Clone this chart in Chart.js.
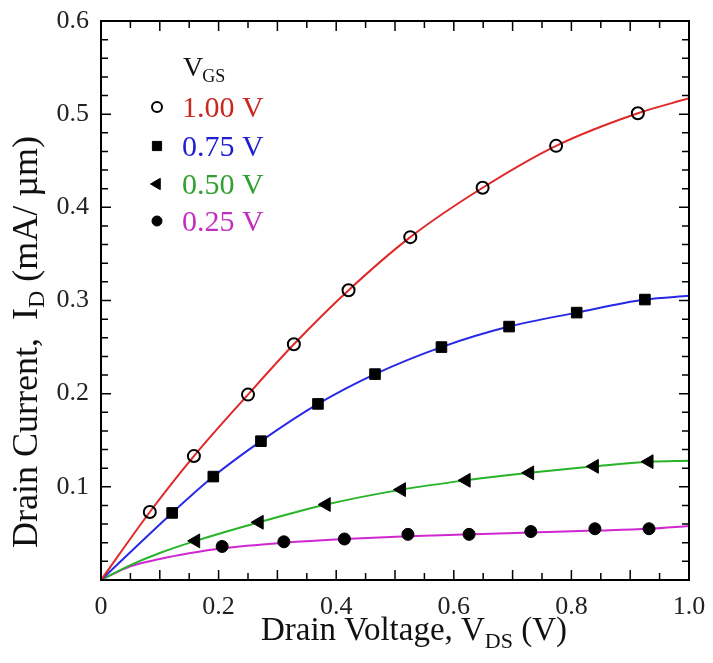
<!DOCTYPE html>
<html>
<head>
<meta charset="utf-8">
<script src="https://cdn.jsdelivr.net/npm/chart.js@4"></script>
<style>
  html, body { margin: 0; padding: 0; background: #fff; }
  #wrap { width: 713px; height: 663px; position: relative; }
</style>
</head>
<body>
<div id="wrap"><canvas id="myChart" width="713" height="663"></canvas></div>
<script>
// marker points (V_DS in V, I_D in mA/um)
const vds100 = [0.083, 0.158, 0.250, 0.328, 0.421, 0.526, 0.649, 0.774, 0.913];
const id100 = [0.073, 0.133, 0.199, 0.253, 0.311, 0.368, 0.421, 0.466, 0.501];
const vds075 = [0.121, 0.191, 0.272, 0.369, 0.466, 0.579, 0.694, 0.809, 0.925];
const id075 = [0.072, 0.111, 0.149, 0.189, 0.221, 0.250, 0.272, 0.287, 0.301];
const vds050 = [0.161, 0.269, 0.383, 0.511, 0.621, 0.729, 0.839, 0.932];
const id050 = [0.042, 0.062, 0.081, 0.097, 0.107, 0.115, 0.122, 0.127];
const vds025 = [0.206, 0.311, 0.414, 0.522, 0.626, 0.731, 0.840, 0.932];
const id025 = [0.036, 0.041, 0.044, 0.049, 0.049, 0.052, 0.055, 0.055];

// fitted curves
const curve100x = [0, 0.083, 0.158, 0.250, 0.328, 0.421, 0.526, 0.649, 0.774, 0.913, 1.0];
const curve100y = [0, 0.073, 0.133, 0.199, 0.253, 0.311, 0.368, 0.421, 0.466, 0.501, 0.517];
const curve075x = [0, 0.121, 0.191, 0.272, 0.369, 0.466, 0.579, 0.694, 0.809, 0.925, 1.0];
const curve075y = [0, 0.072, 0.111, 0.149, 0.189, 0.221, 0.250, 0.272, 0.287, 0.301, 0.305];
const curve050x = [0, 0.05, 0.1, 0.161, 0.269, 0.383, 0.511, 0.621, 0.729, 0.839, 0.932, 1.0];
const curve050y = [0, 0.016, 0.029, 0.042, 0.062, 0.081, 0.097, 0.107, 0.115, 0.122, 0.127, 0.128];
const curve025x = [0, 0.05, 0.1, 0.15, 0.206, 0.311, 0.414, 0.522, 0.626, 0.731, 0.840, 0.932, 1.0];
const curve025y = [0, 0.0147, 0.0225, 0.0286, 0.034, 0.040, 0.044, 0.047, 0.049, 0.051, 0.053, 0.055, 0.058];

const legendLabels = ["1.00 V", "0.75 V", "0.50 V", "0.25 V"];
const lineColors = ["#e02828", "#2828e8", "#28b428", "#d028d0"];
const textColors = ["#c82820", "#2020d0", "#30a030", "#c030c0"];

const FONT = '"Liberation Serif", "Times New Roman", serif';

function pts(xs, ys) {
  return xs.map((x, i) => ({ x: x, y: ys[i] }));
}

function curveSet(xs, ys, color) {
  return {
    data: pts(xs, ys),
    showLine: true,
    borderColor: color,
    borderWidth: 2,
    pointRadius: 0,
    cubicInterpolationMode: "monotone",
    order: 2,
  };
}

const markerStyles = [
  { pointStyle: "circle", radius: 6, rotation: 0, fill: "rgba(0,0,0,0)", bw: 2 },
  { pointStyle: "rect", radius: 7.5, rotation: 0, fill: "#000", bw: 1 },
  { pointStyle: "triangle", radius: 8, rotation: 270, fill: "#000", bw: 1 },
  { pointStyle: "circle", radius: 6, rotation: 0, fill: "#000", bw: 1 },
];

function markerSet(xs, ys, k) {
  const m = markerStyles[k];
  return {
    data: pts(xs, ys),
    showLine: false,
    pointStyle: m.pointStyle,
    pointRadius: m.radius,
    pointRotation: m.rotation,
    pointBackgroundColor: m.fill,
    pointBorderColor: "#000",
    pointBorderWidth: m.bw,
    order: 1,
  };
}

// axes frame, inward ticks, titles and legend
const decorPlugin = {
  id: "decor",
  afterDraw(chart) {
    const ctx = chart.ctx;
    const a = chart.chartArea;
    const xs = chart.scales.x;
    const ys = chart.scales.y;
    ctx.save();
    ctx.strokeStyle = "#000";
    ctx.lineWidth = 2;
    ctx.strokeRect(a.left, a.top, a.right - a.left, a.bottom - a.top);

    ctx.lineWidth = 1.5;
    ctx.beginPath();
    xs.ticks.forEach((t) => {
      const px = xs.getPixelForValue(t.value);
      const major = Math.abs(t.value * 10 - Math.round(t.value * 10)) < 1e-6;
      const len = major ? 10 : 7;
      ctx.moveTo(px, a.bottom);
      ctx.lineTo(px, a.bottom - len);
      ctx.moveTo(px, a.top);
      ctx.lineTo(px, a.top + len);
    });
    ys.ticks.forEach((t) => {
      const py = ys.getPixelForValue(t.value);
      const major = Math.abs(t.value * 10 - Math.round(t.value * 10)) < 1e-6;
      const len = major ? 10 : 7;
      ctx.moveTo(a.left, py);
      ctx.lineTo(a.left + len, py);
      ctx.moveTo(a.right, py);
      ctx.lineTo(a.right - len, py);
    });
    ctx.stroke();

    ctx.fillStyle = "#111";
    ctx.textBaseline = "alphabetic";

    // x title
    const xParts = [
      { t: "Drain Voltage, V", f: 33, dy: 0 },
      { t: "DS", f: 22, dy: 8 },
      { t: " (V)", f: 33, dy: 0 },
    ];
    drawParts(ctx, xParts, 414, 640);

    // y title
    ctx.save();
    ctx.translate(37, 342);
    ctx.rotate(-Math.PI / 2);
    const yParts = [
      { t: "Drain Current,  I", f: 36, dy: 0 },
      { t: "D", f: 24, dy: 7 },
      { t: " (mA/ \u00b5m)", f: 36, dy: 0 },
    ];
    drawParts(ctx, yParts, 0, 0);
    ctx.restore();

    // legend
    ctx.textAlign = "left";
    ctx.fillStyle = "#111";
    ctx.font = "28px " + FONT;
    ctx.fillText("V", 183, 76);
    const vw = ctx.measureText("V").width;
    ctx.font = "18px " + FONT;
    ctx.fillText("GS", 183 + vw - 1, 82);

    const rowY = [107, 146, 184, 221];
    const legendMarkers = [
      { pointStyle: "circle", radius: 5, rotation: 0, fill: "rgba(0,0,0,0)", bw: 2 },
      { pointStyle: "rect", radius: 6.5, rotation: 0, fill: "#000", bw: 1 },
      { pointStyle: "triangle", radius: 6.5, rotation: 270, fill: "#000", bw: 1 },
      { pointStyle: "circle", radius: 5, rotation: 0, fill: "#000", bw: 1 },
    ];
    legendLabels.forEach((lab, i) => {
      const m = legendMarkers[i];
      ctx.fillStyle = m.fill;
      ctx.strokeStyle = "#000";
      ctx.lineWidth = m.bw;
      Chart.helpers.drawPoint(ctx, { pointStyle: m.pointStyle, radius: m.radius, rotation: m.rotation, borderWidth: m.bw }, 157, rowY[i]);
      ctx.fillStyle = textColors[i];
      ctx.font = "30px " + FONT;
      ctx.fillText(lab, 182, rowY[i] + 10);
    });
    ctx.restore();
  },
};

function drawParts(ctx, parts, cx, by) {
  let total = 0;
  parts.forEach((p) => {
    ctx.font = p.f + "px " + FONT;
    p.w = ctx.measureText(p.t).width;
    total += p.w;
  });
  let x = cx - total / 2;
  ctx.textAlign = "left";
  parts.forEach((p) => {
    ctx.font = p.f + "px " + FONT;
    ctx.fillText(p.t, x, by + p.dy);
    x += p.w;
  });
}

const ctx = document.getElementById("myChart").getContext("2d");
const myChart = new Chart(ctx, {
  type: "scatter",
  data: {
    datasets: [
      curveSet(curve100x, curve100y, lineColors[0]),
      curveSet(curve075x, curve075y, lineColors[1]),
      curveSet(curve050x, curve050y, lineColors[2]),
      curveSet(curve025x, curve025y, lineColors[3]),
      markerSet(vds100, id100, 0),
      markerSet(vds075, id075, 1),
      markerSet(vds050, id050, 2),
      markerSet(vds025, id025, 3),
    ],
  },
  options: {
    responsive: false,
    animation: false,
    layout: { padding: { left: 0, right: 24, top: 21, bottom: 0 } },
    plugins: { legend: { display: false }, tooltip: { enabled: false } },
    scales: {
      x: {
        type: "linear",
        min: 0,
        max: 1,
        grid: { display: false },
        border: { display: false },
        afterFit: (s) => { s.height = 83; },
        ticks: {
          stepSize: 0.05,
          autoSkip: false,
          maxRotation: 0,
          padding: 4,
          color: "#222",
          font: { family: FONT, size: 26 },
          callback: (v) => {
            const r = Math.round(v * 5);
            if (Math.abs(v * 5 - r) > 1e-6) return "";
            if (r === 0) return "0";
            return (r / 5).toFixed(1);
          },
        },
      },
      y: {
        type: "linear",
        min: 0,
        max: 0.6,
        grid: { display: false },
        border: { display: false },
        afterFit: (s) => { s.width = 101; },
        ticks: {
          stepSize: 0.02,
          autoSkip: false,
          padding: 4,
          color: "#222",
          font: { family: FONT, size: 26 },
          callback: (v) => {
            const r = Math.round(v * 10);
            if (Math.abs(v * 10 - r) > 1e-6 || r === 0) return "";
            return (r / 10).toFixed(1);
          },
        },
      },
    },
  },
  plugins: [decorPlugin],
});
</script>
</body>
</html>
